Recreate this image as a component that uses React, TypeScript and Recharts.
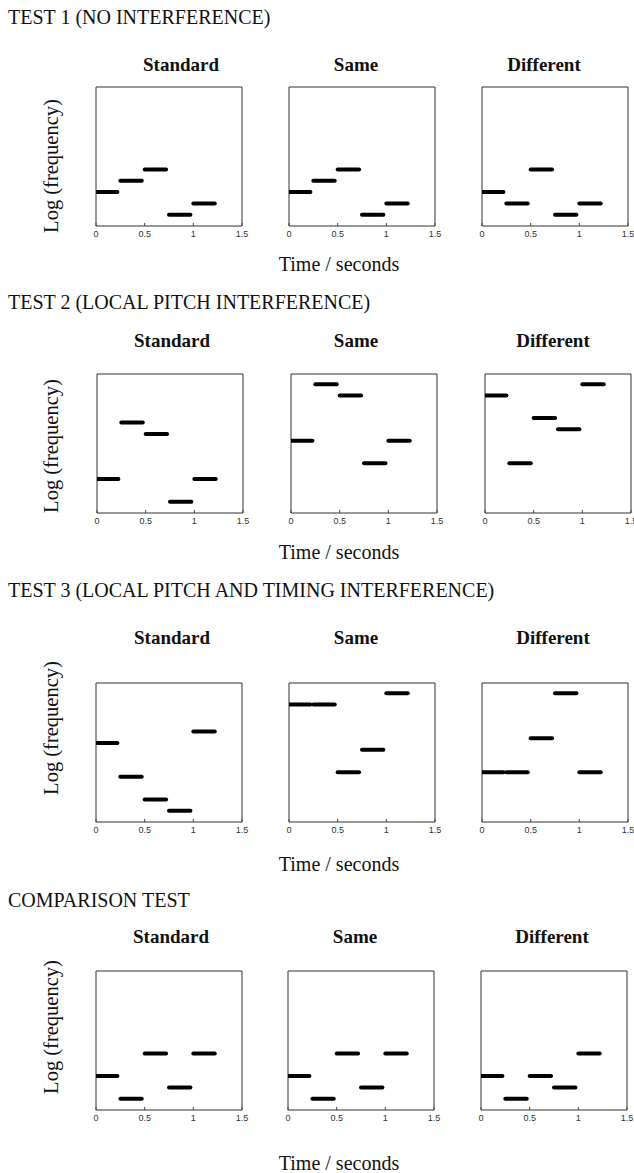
import React from 'react';
import { LineChart, Line, XAxis, YAxis, ReferenceArea } from 'recharts';

// note timing (seconds) shared by every melody
const noteStarts = [0, 0.25, 0.5, 0.75, 1.0];
const noteEnds = [0.22, 0.47, 0.72, 0.97, 1.22];
const timeTicks = [0, 0.5, 1, 1.5];
const panelNames = ['Standard', 'Same', 'Different'];

// pitch levels (log frequency, arbitrary steps)
const test1Standard = [3, 4, 5, 1, 2];
const test1Same = [3, 4, 5, 1, 2];
const test1Different = [3, 2, 5, 1, 2];
const test2Standard = [3, 8, 7, 1, 3];
const test2Same = [6.4, 11.4, 10.4, 4.4, 6.4];
const test2Different = [10.4, 4.4, 8.4, 7.4, 11.4];
const test3Standard = [7, 4, 2, 1, 8];
const test3Same = [10.4, 10.4, 4.4, 6.4, 11.4];
const test3Different = [4.4, 4.4, 7.4, 11.4, 4.4];
const compStandard = [3, 1, 5, 2, 5];
const compSame = [3, 1, 5, 2, 5];
const compDifferent = [3, 1, 3, 2, 5];

const FREQ_MAX = 12.3;
const BOX_W = 146;
const BOX_H = 139;
const M = 10;

const sections = [
  {
    title: 'TEST 1 (NO INTERFERENCE)',
    titleY: 17,
    headY: 65,
    heads: [181, 356, 544],
    boxTop: 87,
    lefts: [96, 289, 482],
    yLabelY: 166,
    timeY: 264,
    melodies: [test1Standard, test1Same, test1Different],
  },
  {
    title: 'TEST 2 (LOCAL PITCH INTERFERENCE)',
    titleY: 302,
    headY: 341,
    heads: [172, 356, 553],
    boxTop: 374,
    lefts: [97, 291, 485],
    yLabelY: 446,
    timeY: 552,
    melodies: [test2Standard, test2Same, test2Different],
  },
  {
    title: 'TEST 3 (LOCAL PITCH AND TIMING INTERFERENCE)',
    titleY: 590,
    headY: 638,
    heads: [172, 356, 553],
    boxTop: 683,
    lefts: [96, 289, 482],
    yLabelY: 728,
    timeY: 864,
    melodies: [test3Standard, test3Same, test3Different],
  },
  {
    title: 'COMPARISON TEST',
    titleY: 900,
    headY: 937,
    heads: [171, 355, 552],
    boxTop: 971,
    lefts: [96, 288, 481],
    yLabelY: 1027,
    timeY: 1163,
    melodies: [compStandard, compSame, compDifferent],
  },
];

const Panel = ({ pitches, left, top }: { pitches: number[]; left: number; top: number }) => {
  const notes = pitches.map((f, i) => [
    { t: noteStarts[i], f },
    { t: noteEnds[i], f },
  ]);
  return (
    <div style={{ position: 'absolute', left: left - M, top: top - M }}>
      <LineChart
        width={BOX_W + 2 * M}
        height={BOX_H + M + 20}
        margin={{ top: M, right: M, bottom: 0, left: M }}
      >
        <XAxis
          dataKey="t"
          type="number"
          domain={[0, 1.5]}
          ticks={timeTicks}
          allowDataOverflow
          axisLine={false}
          tickLine={{ stroke: '#444' }}
          tickSize={-3}
          tickMargin={8}
          height={20}
          tick={{ fontSize: 9, fill: '#333', fontFamily: 'Liberation Sans, Arial, sans-serif' }}
        />
        <XAxis
          xAxisId="top"
          orientation="top"
          dataKey="t"
          type="number"
          domain={[0, 1.5]}
          ticks={timeTicks}
          axisLine={false}
          tickLine={{ stroke: '#444' }}
          tickSize={-3}
          tick={false}
          height={0}
        />
        <YAxis type="number" domain={[0, FREQ_MAX]} hide />
        <ReferenceArea x1={0} x2={1.5} y1={0} y2={FREQ_MAX} fill="none" stroke="#333" strokeWidth={1} />
        {notes.map((d, i) => (
          <Line
            key={i}
            data={d}
            dataKey="f"
            stroke="#000"
            strokeWidth={4}
            strokeLinecap="round"
            dot={false}
            isAnimationActive={false}
          />
        ))}
      </LineChart>
    </div>
  );
};

export default function App() {
  const serif = '"Liberation Serif", "Times New Roman", serif';
  return (
    <div
      style={{
        position: 'absolute',
        left: 0,
        top: 0,
        width: 634,
        height: 1173,
        background: '#fff',
        fontFamily: serif,
        color: '#111',
        overflow: 'hidden',
      }}
    >
      {sections.map((s, si) => (
        <React.Fragment key={si}>
          <div style={{ position: 'absolute', left: 8, top: s.titleY - 12, fontSize: 20, lineHeight: '24px', whiteSpace: 'nowrap' }}>
            {s.title}
          </div>
          {panelNames.map((name, pi) => (
            <div
              key={name}
              style={{
                position: 'absolute',
                left: s.heads[pi] - 80,
                width: 160,
                top: s.headY - 11,
                textAlign: 'center',
                fontSize: 19,
                fontWeight: 'bold',
                lineHeight: '22px',
              }}
            >
              {name}
            </div>
          ))}
          <div
            style={{
              position: 'absolute',
              left: 51 - 100,
              top: s.yLabelY - 12,
              width: 200,
              textAlign: 'center',
              fontSize: 20.5,
              lineHeight: '24px',
              transform: 'rotate(-90deg)',
              whiteSpace: 'nowrap',
            }}
          >
            Log (frequency)
          </div>
          {s.melodies.map((mel, pi) => (
            <Panel key={pi} pitches={mel} left={s.lefts[pi]} top={s.boxTop} />
          ))}
          <div
            style={{
              position: 'absolute',
              left: 239,
              width: 200,
              top: s.timeY - 12,
              textAlign: 'center',
              fontSize: 20,
              lineHeight: '24px',
            }}
          >
            Time / seconds
          </div>
        </React.Fragment>
      ))}
    </div>
  );
}
